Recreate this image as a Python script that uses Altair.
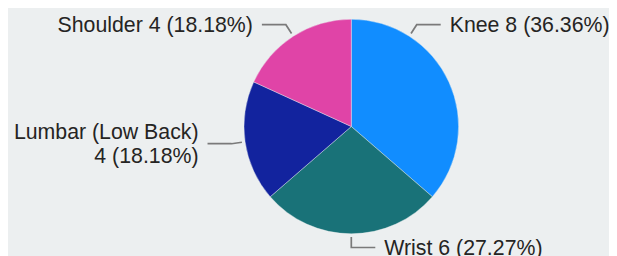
import math
import altair as alt
import pandas as pd

# ---- data ----
categories = ["Knee", "Wrist", "Lumbar (Low Back)", "Shoulder"]
counts = [8, 6, 4, 4]
colors = ["#118DFF", "#197278", "#12239E", "#E044A7"]

# ---- layout / style ----
W, H = 601, 248
CX, CY, R = 343.3, 118.5, 107.3
BG = "#ECEFF0"
LINE_COLOR = "#7a7a7a"
TEXT_COLOR = "#252423"
FONT = "Liberation Sans"
FS = 21.3
LH = 24
# where, inside each slice, the leader line leaves the pie (fraction of slice span)
leader_frac = [0.25, 0.5, 0.5, 0.5]
R_START, R_ELBOW, H_SEG, GAP = 110.5, 121.0, 24.0, 9.0

total = sum(counts)
df = pd.DataFrame({"cat": categories, "n": counts, "order": list(range(len(categories)))})

line_rows, text_rows = [], []
cum = 0.0
for i, (cat, n) in enumerate(zip(categories, counts)):
    a0 = cum / total * 2 * math.pi
    a1 = (cum + n) / total * 2 * math.pi
    cum += n
    a = a0 + (a1 - a0) * leader_frac[i]
    s, c = math.sin(a), math.cos(a)
    d = 1 if s >= -0.01 else -1
    sx, sy = CX + R_START * s, CY - R_START * c
    ex, ey = CX + R_ELBOW * s, CY - R_ELBOW * c
    hx = ex + d * H_SEG
    line_rows += [
        {"cat": cat, "k": 0, "px": sx, "py": sy},
        {"cat": cat, "k": 1, "px": ex, "py": ey},
        {"cat": cat, "k": 2, "px": hx, "py": ey},
    ]
    pct = n / total * 100
    if len(cat) > 12:
        label = f"{cat}\n{n} ({pct:.2f}%)"
    else:
        label = f"{cat} {n} ({pct:.2f}%)"
    nl = label.count("\n")
    text_rows.append({"cat": cat, "label": label, "px": hx + d * GAP,
                      "py": ey - nl * LH / 2, "dir": d})

lines_df = pd.DataFrame(line_rows)
text_df = pd.DataFrame(text_rows)

arc = alt.Chart(df).mark_arc(radius=R, stroke=BG, strokeWidth=0.4).encode(
    theta=alt.Theta("n:Q", stack=True),
    color=alt.Color("cat:N", scale=alt.Scale(domain=categories, range=colors), legend=None),
    order=alt.Order("order:Q"),
    x=alt.value(CX),
    y=alt.value(CY),
)

lines = alt.Chart(lines_df).mark_line(color=LINE_COLOR, strokeWidth=1.7).encode(
    x=alt.X("px:Q", scale=None, axis=None),
    y=alt.Y("py:Q", scale=None, axis=None),
    detail="cat:N",
    order="k:Q",
)

def text_layer(direction, align):
    return alt.Chart(text_df[text_df["dir"] == direction]).mark_text(
        align=align, baseline="middle", font=FONT, fontSize=FS, color=TEXT_COLOR,
        lineBreak="\n", lineHeight=LH, dy=1,
    ).encode(
        x=alt.X("px:Q", scale=None, axis=None),
        y=alt.Y("py:Q", scale=None, axis=None),
        text="label:N",
    )

chart = alt.layer(arc, lines, text_layer(1, "left"), text_layer(-1, "right")).properties(
    width=W, height=H, background=BG, padding=0, autosize="none"
).configure_view(stroke=None)

chart.save("out.html", embed_options={"renderer": "svg", "actions": False})
